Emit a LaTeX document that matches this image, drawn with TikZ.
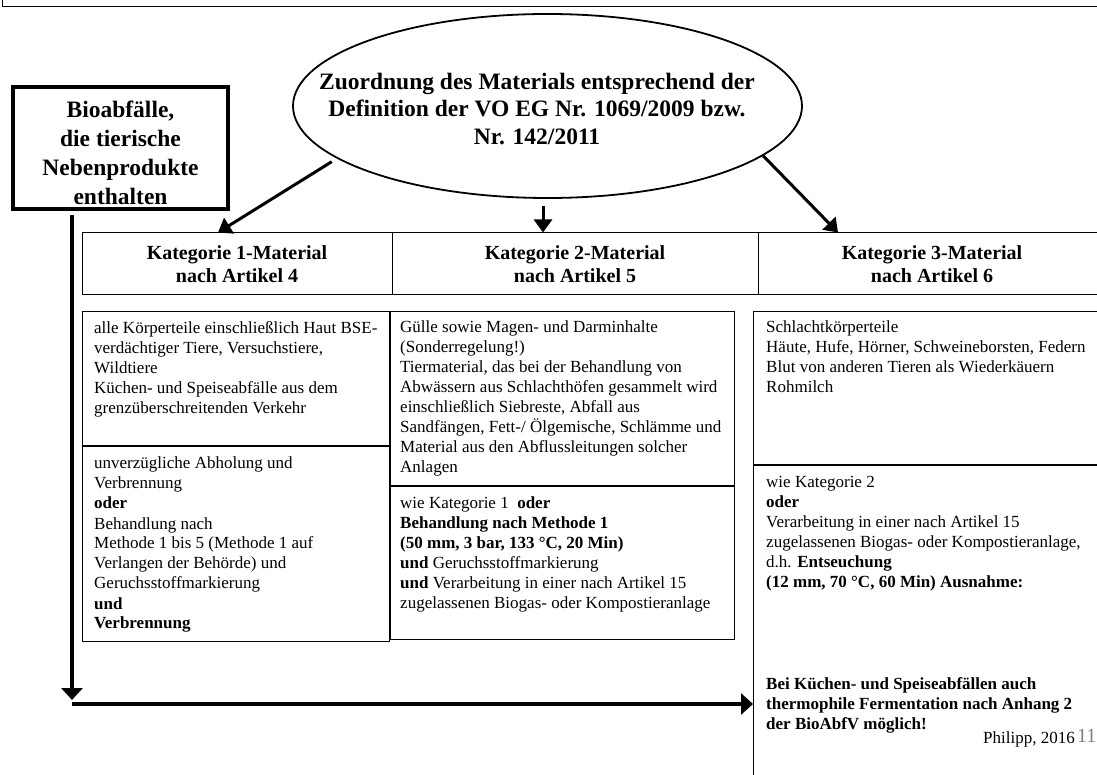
\documentclass[tikz,border=0pt]{standalone}
\usepackage{fontspec}
\setmainfont{Liberation Serif}
\usetikzlibrary{shapes.geometric,arrows.meta,calc}

\begin{document}
\begin{tikzpicture}[x=1pt, y=-1pt]
    \tikzstyle{rahmen} = [draw, line width=1pt, inner sep=0pt, anchor=north west]
    \tikzstyle{kopf} = [draw, line width=1pt, minimum height=62pt, inner sep=0pt, align=center, font=\fontsize{20}{23}\selectfont\bfseries]
    \tikzstyle{inhalt} = [anchor=north west, inner sep=0pt, align=left, font=\fontsize{17}{20}\selectfont]
    \tikzstyle{pfeil} = [line width=3pt, -{Triangle[width=18pt,length=13pt]}]
    \tikzstyle{dickpfeil} = [line width=4pt, -{Triangle[width=21pt,length=12pt]}]
    \useasboundingbox (0,0) rectangle (1097,775);
    % Rand oben
    \draw[line width=1pt] (2,0) |- (1097,7);
    % Ellipse und Kasten links
    \node[ellipse, draw, line width=1.8pt, minimum width=509pt, minimum height=184pt, inner sep=0pt] (zuord) at (547.5,106) {};
    \node[align=center, font=\fontsize{23.5}{27.5}\selectfont\bfseries] (zuordtext) at (537,109)
        {Zuordnung des Materials entsprechend der\\Definition der VO EG Nr. 1069/2009 bzw.\\Nr. 142/2011};
    \node[draw, line width=4pt, minimum width=215pt, minimum height=122pt, inner sep=0pt] (bio) at (120.5,148) {};
    \node[align=center, font=\fontsize{23.5}{29}\selectfont\bfseries] (biotext) at (120.5,153)
        {Bioabfälle,\\die tierische\\Nebenprodukte\\enthalten};
    % Kopfzeile
    \foreach \n/\x/\w/\a in {1/237/310/4, 2/575/366/5, 3/932/348/6} {
        \node[kopf, minimum width=\w pt] (kat\n) at (\x,264) {Kategorie \n-Material\\nach Artikel \a};
    }
    % Kaesten unten
    \foreach \n/\x/\w/\ho/\hu in {1/82/307/134/195, 2/390/344/174/153, 3/753/357/153/336} {
        \node[rahmen, minimum width=\w pt, minimum height=\ho pt] (oben\n) at (\x,311) {};
        \node[rahmen, minimum width=\w pt, minimum height=\hu pt] (unten\n) at (oben\n.south west) {};
    }
    \node[inhalt] (text1o) at ([shift={(12,10)}]oben1.north west)
        {alle Körperteile einschließlich Haut BSE-\\verdächtiger Tiere, Versuchstiere,\\Wildtiere\\Küchen- und Speiseabfälle aus dem\\grenzüberschreitenden Verkehr};
    \node[inhalt] (text1u) at ([shift={(12,11)}]unten1.north west)
        {unverzügliche Abholung und\\Verbrennung\\\textbf{oder}\\Behandlung nach\\Methode 1 bis 5 (Methode 1 auf\\Verlangen der Behörde) und\\Geruchsstoffmarkierung\\\textbf{und}\\\textbf{Verbrennung}};
    \node[inhalt] (text2o) at ([shift={(10,10)}]oben2.north west)
        {Gülle sowie Magen- und Darminhalte\\(Sonderregelung!)\\Tiermaterial, das bei der Behandlung von\\Abwässern aus Schlachthöfen gesammelt wird\\einschließlich Siebreste, Abfall aus\\Sandfängen, Fett-/ Ölgemische, Schlämme und\\Material aus den Abflussleitungen solcher\\Anlagen};
    \node[inhalt] (text2u) at ([shift={(10,11)}]unten2.north west)
        {wie Kategorie 1\ \ \textbf{oder}\\\textbf{Behandlung nach Methode 1}\\\textbf{(50 mm, 3 bar, 133 °C, 20 Min)}\\\textbf{und} Geruchsstoffmarkierung\\\textbf{und} Verarbeitung in einer nach Artikel 15\\zugelassenen Biogas- oder Kompostieranlage};
    \node[inhalt] (text3o) at ([shift={(13,10)}]oben3.north west)
        {Schlachtkörperteile\\Häute, Hufe, Hörner, Schweineborsten, Federn\\Blut von anderen Tieren als Wiederkäuern\\Rohmilch};
    \node[inhalt] (text3u) at ([shift={(13,11)}]unten3.north west)
        {wie Kategorie 2\\\textbf{oder}\\Verarbeitung in einer nach Artikel 15\\zugelassenen Biogas- oder Kompostieranlage,\\d.h. \textbf{Entseuchung}\\\textbf{(12 mm, 70 °C, 60 Min) Ausnahme:}\\[82pt]\textbf{Bei Küchen- und Speiseabfällen auch}\\\textbf{thermophile Fermentation nach Anhang 2}\\\textbf{der BioAbfV möglich!}};
    \node[anchor=base east, inner sep=0pt, font=\fontsize{17}{20}\selectfont] (quelle) at (1075,743) {Philipp, 2016};
    \node[anchor=base west, inner sep=0pt, text=gray, font=\fontsize{20}{20}\selectfont] (seite) at (1077,742) {11};
    % Pfeile
    \draw[pfeil, shorten <=6pt] (zuord.194) -- ([xshift=-19pt]kat1.north);
    \coordinate (mitte) at ([shift={(-4.5,7)}]zuord.south);
    \draw[pfeil] (mitte) -- (mitte |- kat2.north);
    \draw[pfeil] (zuord.347) -- ([xshift=-94pt]kat3.north);
    \coordinate (ecke) at (72,704);
    \draw[dickpfeil, shorten <=4pt] (bio.south -| ecke) -- ([yshift=4pt]ecke);
    \draw[dickpfeil] (ecke) -- (ecke -| unten3.west);
\end{tikzpicture}
\end{document}
